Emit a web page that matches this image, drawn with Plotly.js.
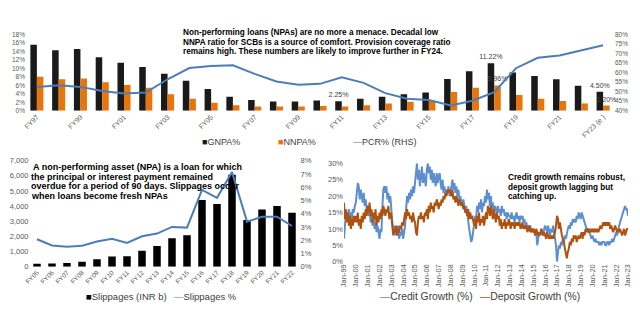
<!DOCTYPE html>
<html><head><meta charset="utf-8">
<script src="https://cdn.plot.ly/plotly-3.0.1.min.js"></script>
<style>html,body{margin:0;padding:0;background:#fff}#chart{width:640px;height:335px}</style>
</head><body><div id="chart"></div>
<script>
// ---------- Top panel: NPA ratios ----------
const fyTop = ['FY97','FY98','FY99','FY00','FY01','FY02','FY03','FY04','FY05','FY06','FY07','FY08','FY09','FY10','FY11','FY12','FY13','FY14','FY15','FY16','FY17','FY18','FY19','FY20','FY21','FY22','FY23 (e )'];
const gnpa = [15.6,14.3,14.6,12.6,11.3,10.3,8.7,7.1,5.1,3.3,2.5,2.2,2.2,2.4,2.25,2.8,3.3,3.9,4.3,7.5,9.3,11.22,9.0,8.2,7.4,5.9,4.5];
const nnpa = [8.0,7.4,7.6,6.7,6.1,5.4,3.9,2.8,1.9,1.3,1.0,1.0,1.0,1.1,1.0,1.3,1.7,2.1,2.3,4.4,5.4,5.96,3.7,2.8,2.3,1.7,1.2];
const pcr  = [52.5,53.4,52.5,50.4,49.0,49.5,56.5,62.4,63.5,63.8,59.3,55.3,53.6,54.1,57.6,54.6,49.2,46.3,45.6,42.8,45.2,49.7,62.3,67.8,69.0,71.6,74.4];
const gnpaLabels = ['','','','','','','','','','','','','','','2.25%','','','','','','','11.22%','','','','','4.50%'];
const nnpaLabels = ['','','','','','','','','','','','','','','','','','','','','','5.96%','','','','','1.20%'];
const topTickLabels = ['FY97','FY99','FY01','FY03','FY05','FY07','FY09','FY11','FY13','FY15','FY17','FY19','FY21','FY23 (e )'];

// ---------- Bottom-left panel: slippages ----------
const fySlip = ['FY05','FY06','FY07','FY08','FY09','FY10','FY11','FY12','FY13','FY14','FY15','FY16','FY17','FY18','FY19','FY20','FY21','FY22'];
const slippages = [190,210,250,330,490,670,690,1060,1370,1880,2070,4400,4140,6080,3080,3770,4010,3570];
const slippagePct = [2.07,1.6,1.5,1.58,1.9,2.1,1.8,2.3,2.5,3.0,2.95,5.8,5.2,7.15,3.4,3.77,3.77,3.07];

// ---------- Bottom-right panel: credit vs deposit growth (monthly, Jan-99 .. Jan-23) ----------
const creditGrowth = [
 7,12,15,13,14,16,14,15,13,16,15,17,
 18,21,24,23,19,22,20,18,21,17,19,16,
 17,14,16,12,13,11,14,10,12,9,11,8,
 7,10,9,17,22,23,21,23,19,21,18,20,
 17,12,9,11,8,10,8,11,7,9,8,10,
 7,9,11,16,20,18,21,19,22,20,23,21,
 24,27,30,25,28,23,27,29,24,27,25,23,
 28,30,27,29,25,28,24,27,25,23,27,24,
 26,27,24,22,25,21,23,20,22,21,23,20,
 21,23,25,22,24,21,23,20,22,19,20,18,
 17,19,16,15,17,14,12,10,8,6,7,9,
 11,14,13,17,15,18,16,19,15,18,17,20,
 18,22,19,21,17,20,16,18,15,17,16,15,
 17,15,16,14,17,15,16,14,15,13,15,14,
 14,13,15,13,14,12,14,15,13,14,12,14,
 13,14,12,13,11,12,10,11,10,11,9,10,
 9,10,8,9,5,8,9,8,10,9,8,10,
 11,10,9,11,9,8,10,9,11,8,7,5,
 0,3,5,4,6,5,7,6,8,7,9,10,
 11,10,12,11,13,12,13,12,14,13,15,14,
 13,15,14,13,12,11,10,10,9,9,8,7,
 8,7,6,7,6,6,6,5,6,5,6,6,
 6,5,5,6,6,5,6,6,7,6,7,8,
 9,8,10,11,12,13,14,15,16,17,16,16,
 14];
const depositGrowth = [
 18,13,16,12,15,11,14,10,13,11,14,12,
 14,12,15,11,13,10,14,12,15,13,16,14,
 17,15,18,14,16,12,15,13,16,11,14,12,
 15,13,16,14,17,15,14,16,15,17,13,15,
 14,11,8,10,9,11,8,10,9,11,10,12,
 11,13,15,13,16,14,15,13,14,12,15,13,
 12,9,8,12,14,13,15,13,14,12,15,14,
 16,13,17,15,18,16,17,15,18,17,19,18,
 16,18,17,19,18,20,19,21,20,22,21,22,
 21,20,22,19,20,18,20,19,17,19,18,17,
 18,16,17,15,16,14,16,13,15,13,14,12,
 11,13,10,14,12,15,11,13,12,14,11,13,
 15,13,17,16,14,17,15,13,16,14,12,15,
 13,14,11,13,10,12,11,13,10,12,11,13,
 12,10,12,11,12,10,12,11,12,11,12,10,
 11,12,10,11,10,11,9,10,11,9,10,9,
 10,9,8,10,9,8,9,8,10,9,8,9,
 8,7,9,8,7,8,7,8,7,8,9,11,
 14,13,10,12,9,8,7,6,4,2,1,3,
 4,6,5,7,6,8,7,8,6,7,8,7,
 8,9,7,9,8,10,9,10,9,10,9,10,
 9,10,9,10,9,10,9,10,11,10,11,12,
 11,12,11,12,11,12,10,11,10,9,10,11,
 10,9,10,9,10,9,8,9,10,8,9,10,
 10];
const growthDates = [];
for (let i = 0; i < creditGrowth.length; i++) {
  const y = 1999 + Math.floor(i / 12), m = (i % 12) + 1;
  growthDates.push(y + '-' + String(m).padStart(2, '0') + '-01');
}

const FONT = 'Liberation Sans Narrow, Arial Narrow, Liberation Sans, Arial, sans-serif';
const GREY = '#595959';
const BLUE = '#4A7EBB';
const ORANGE = '#E8740C';
const BLACK = '#1a1a1a';
const CREDIT = '#5B8FD0';
const DEPOSIT = '#B0520E';
const W = 640, H = 335;
const px = v => v / W, py = v => 1 - v / H;

const traces = [
  {type:'bar', x: fyTop, y: gnpa, name:'GNPA%', marker:{color:BLACK}, xaxis:'x', yaxis:'y',
   text: gnpaLabels, textposition:'outside', constraintext:'none', cliponaxis:false,
   textfont:{size:7, color:'#404040', family:FONT}},
  {type:'bar', x: fyTop, y: nnpa, name:'NNPA%', marker:{color:ORANGE}, xaxis:'x', yaxis:'y',
   text: nnpaLabels, textposition:'outside', constraintext:'none', cliponaxis:false,
   textfont:{size:7, color:'#404040', family:FONT}},
  {type:'scatter', mode:'lines', x: fyTop, y: pcr, name:'PCR% (RHS)', line:{color:BLUE, width:2}, xaxis:'x', yaxis:'y2'},
  {type:'bar', x: fySlip, y: slippages, name:'Slippages (INR b)', marker:{color:'#000'}, width:0.5, xaxis:'x3', yaxis:'y3'},
  {type:'scatter', mode:'lines', x: fySlip, y: slippagePct, name:'Slippages %', line:{color:BLUE, width:2}, xaxis:'x3', yaxis:'y4'},
  {type:'scatter', mode:'lines', x: growthDates, y: creditGrowth, name:'Credit Growth (%)', line:{color:CREDIT, width:2}, xaxis:'x5', yaxis:'y5'},
  {type:'scatter', mode:'lines', x: growthDates, y: depositGrowth, name:'Deposit Growth (%)', line:{color:DEPOSIT, width:2}, xaxis:'x5', yaxis:'y5'}
];

const axBase = {showgrid:false, zeroline:false, showline:false, ticks:'', tickfont:{family:FONT, color:GREY}};

const ann = [];
function txt(x, y, t, size, color) {
  ann.push({xref:'paper', yref:'paper', x:px(x), y:py(y), xanchor:'left', yanchor:'middle',
    showarrow:false, text:t, font:{family:FONT, size:size, color:color}});
}
// notes
txt(180.5, 32.7, '<b>Non-performing loans (NPAs) are no more a menace. Decadal low</b>', 8.2, '#000');
txt(180.5, 42.2, '<b>NNPA ratio for SCBs is a source of comfort. Provision coverage ratio</b>', 8.2, '#000');
txt(180.5, 51.2, '<b>remains high. These numbers are likely to improve further in FY24.</b>', 8.2, '#000');
txt(31, 167, '<b>A non-performing asset (NPA) is a loan for which</b>', 9, '#000');
txt(29, 176.5, '<b>the principal or interest payment remained</b>', 9, '#000');
txt(29, 186.2, '<b>overdue for a period of 90 days. Slippages occur</b>', 9, '#000');
txt(29, 195.5, '<b>when loans become fresh NPAs</b>', 9, '#000');
txt(505.5, 177.3, '<b>Credit growth remains robust,</b>', 8.2, '#000');
txt(505.5, 187.3, '<b>deposit growth lagging but</b>', 8.2, '#000');
txt(505.5, 196.7, '<b>catching up.</b>', 8.2, '#000');
// legends
const LG = '#404040';
txt(200, 142.3, '<span style="color:'+BLACK+'">■</span>GNPA%', 9, LG);
txt(275.5, 142.3, '<span style="color:'+ORANGE+'">■</span>NNPA%', 9, LG);
txt(350.5, 142.3, '<span style="color:'+BLUE+'">—</span>PCR% (RHS)', 9, LG);
txt(83.5, 296.7, '<span style="color:#000">■</span>Slippages (INR b)', 9.5, LG);
txt(172, 296.7, '<span style="color:'+BLUE+'">—</span>Slippages %', 9.5, LG);
txt(378, 296.7, '<span style="color:'+CREDIT+'">—</span>Credit Growth (%)', 10.3, LG);
txt(478, 296.7, '<span style="color:'+DEPOSIT+'">—</span>Deposit Growth (%)', 10.3, LG);

const layout = {
  width: W, height: H, margin:{l:0, r:0, t:0, b:0}, paper_bgcolor:'#fff', plot_bgcolor:'rgba(0,0,0,0)',
  showlegend:false, barmode:'group', bargap:0.4, bargroupgap:0,
  font:{family:FONT, color:GREY},
  xaxis: Object.assign({}, axBase, {domain:[px(26), px(614)], anchor:'y', type:'category',
    tickvals: topTickLabels, ticktext: topTickLabels, tickangle:-45, tickfont:{family:FONT, size:7, color:GREY}}),
  yaxis: Object.assign({}, axBase, {domain:[py(110.7), py(34.5)], anchor:'x', range:[0,18], dtick:2, ticksuffix:'%',
    tickfont:{family:FONT, size:6.5, color:GREY}}),
  yaxis2: Object.assign({}, axBase, {overlaying:'y', side:'right', anchor:'x', range:[40,80], dtick:5, ticksuffix:'%',
    tickfont:{family:FONT, size:6.5, color:GREY}}),
  xaxis3: Object.assign({}, axBase, {domain:[px(29.5), px(299.5)], anchor:'y3', type:'category',
    tickangle:-45, tickfont:{family:FONT, size:6.5, color:GREY}}),
  yaxis3: Object.assign({}, axBase, {domain:[py(266.7), py(160.7)], anchor:'x3', range:[0,7000], dtick:1000, tickformat:',d',
    tickfont:{family:FONT, size:7.5, color:GREY}}),
  yaxis4: Object.assign({}, axBase, {overlaying:'y3', side:'right', anchor:'x3', range:[0,8], dtick:1, ticksuffix:'%',
    tickfont:{family:FONT, size:7.5, color:GREY}}),
  xaxis5: Object.assign({}, axBase, {domain:[px(344), px(628)], anchor:'y5', type:'date',
    range:['1999-01-01','2023-01-01'], dtick:'M12', tick0:'1999-01-01', tickformat:'%b-%y', tickangle:-90,
    tickfont:{family:FONT, size:7.5, color:GREY}}),
  yaxis5: Object.assign({}, axBase, {domain:[py(261.7), py(163.3)], anchor:'x5', range:[0,30], dtick:5, ticksuffix:'%',
    tickfont:{family:FONT, size:7.5, color:GREY}}),
  annotations: ann
};

Plotly.newPlot('chart', traces, layout, {staticPlot:true, displayModeBar:false});
</script></body></html>
